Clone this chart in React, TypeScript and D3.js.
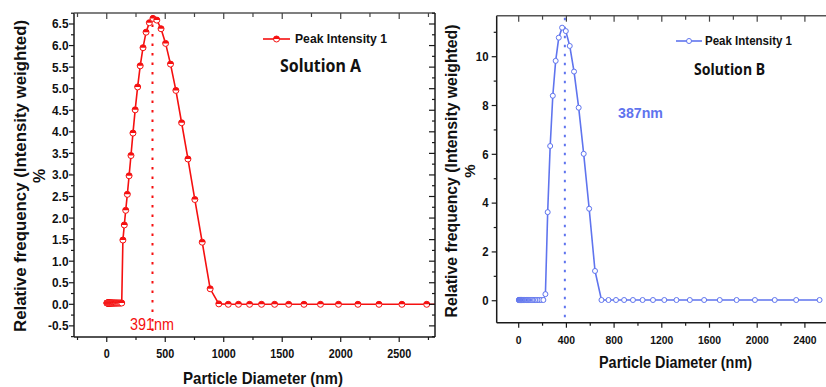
import React from "react";
import * as d3 from "d3";

// Particle diameter bins (nm) shared by both measurements
const diameters = [
  1, 2, 4, 6, 8, 10, 12, 13, 14, 15, 17, 18, 20, 21, 23, 25, 27, 30, 32, 35, 38, 41, 45, 48, 52, 57,
  62, 67, 72, 79, 85, 92, 100, 109, 118, 128,
  138, 150, 162, 176, 191, 207, 224, 243, 264, 286, 310, 336, 364, 395, 428, 464, 503, 545, 591,
  640, 694, 753, 816, 884, 958, 1039, 1126, 1221, 1323, 1435, 1555, 1686, 1827, 1981, 2147, 2327,
  2523, 2735, 2965,
];

// Solution A: relative frequency (%)
const solutionA = [
  0.03, 0.03, 0.03, 0.03, 0.03, 0.03, 0.03, 0.03, 0.03, 0.03, 0.03, 0.03, 0.03, 0.03, 0.03, 0.03,
  0.03, 0.03, 0.03, 0.03, 0.03, 0.03, 0.03, 0.03, 0.03, 0.03, 0.03, 0.03, 0.03, 0.03, 0.03, 0.03,
  0.03, 0.03, 0.03, 0.03,
  1.49, 1.84, 2.18, 2.55, 2.98, 3.45, 3.97, 4.51, 5.04, 5.53, 5.95, 6.31, 6.53, 6.63, 6.59, 6.39,
  6.05, 5.57, 4.96, 4.21, 3.37, 2.43, 1.44, 0.36, 0.01,
  0, 0, 0, 0, 0, 0, 0, 0, 0, 0, 0, 0, 0, 0,
];

// Solution B: relative frequency (%)
const solutionB = [
  0.03, 0.03, 0.03, 0.03, 0.03, 0.03, 0.03, 0.03, 0.03, 0.03, 0.03, 0.03, 0.03, 0.03, 0.03, 0.03,
  0.03, 0.03, 0.03, 0.03, 0.03, 0.03, 0.03, 0.03, 0.03, 0.03, 0.03, 0.03, 0.03, 0.03, 0.03, 0.03,
  0.03, 0.03, 0.03, 0.03,
  0.03, 0.03, 0.03, 0.03, 0.03, 0.03,
  0.27, 3.63, 6.34, 8.4, 9.83, 10.78, 11.19, 11.05, 10.44, 9.39, 7.91, 6.02, 3.77, 1.22, 0.03,
  0.03, 0.03, 0.03, 0.03, 0.03, 0.03, 0.03, 0.03, 0.03, 0.03, 0.03, 0.03, 0.03, 0.03, 0.03, 0.03,
];

const xTickLabelsA = ["0", "500", "1000", "1500", "2000", "2500"];
const yTickLabelsA = ["-0.5", "0.0", "0.5", "1.0", "1.5", "2.0", "2.5", "3.0", "3.5", "4.0", "4.5", "5.0", "5.5", "6.0", "6.5"];
const xTickLabelsB = ["0", "400", "800", "1200", "1600", "2000", "2400"];
const yTickLabelsB = ["0", "2", "4", "6", "8", "10"];

const peakA = 391;
const peakB = 387;
const peakLabelA = "391nm";
const peakLabelB = "387nm";
const legendText = "Peak Intensity 1";
const yLabel = "Relative frequency (Intensity weighted)";
const xLabel = "Particle Diameter (nm)";

const FONT = "'Liberation Sans', Arial, sans-serif";
const TITLE_FONT = "'Noto Sans', 'Open Sans', sans-serif";
const SQ = 0.9;
const RED = "#f51010";
const BLUE = "#5f74ee";
const AXIS = "#1a1a1a";

type PanelProps = {
  id: string;
  values: number[];
  xDomain: [number, number];
  xRange: [number, number];
  yDomain: [number, number];
  yRange: [number, number];
  xLabels: string[];
  yLabels: string[];
  xMinorStep: number;
  xMajorStep: number;
  yMinorStep: number;
  yMajorStep: number;
  color: string;
  halfFill: boolean;
  r: number;
  showRight: boolean;
  tickFont: number;
  yTickFont: number;
  xTickBase: number;
  yTickRight: number;
  peak: number;
  dash: string;
};

function Panel(p: PanelProps) {
  const x = d3.scaleLinear().domain(p.xDomain).range(p.xRange);
  const y = d3.scaleLinear().domain(p.yDomain).range(p.yRange);
  const [x0, x1] = p.xRange;
  const [yb, yt] = p.yRange;
  const line = d3
    .line<number>()
    .x((_, i) => x(diameters[i]))
    .y((d) => y(d));
  const xMinor = d3.range(Math.ceil(p.xDomain[0] / p.xMinorStep) * p.xMinorStep, p.xDomain[1] + 1e-6, p.xMinorStep);
  const yMinor = d3.range(Math.ceil(p.yDomain[0] / p.yMinorStep - 1e-9) * p.yMinorStep, p.yDomain[1] + 1e-6, p.yMinorStep);
  const isMajor = (v: number, s: number) => Math.abs(v / s - Math.round(v / s)) < 1e-6;
  const r = p.r;
  return (
    <g>
      <defs>
        <clipPath id={`clip-${p.id}`}>
          <rect x={x0} y={yt} width={x1 - x0} height={yb - yt} />
        </clipPath>
      </defs>
      <g clipPath={`url(#clip-${p.id})`}>
        <line x1={x(p.peak)} x2={x(p.peak)} y1={yt + 2} y2={yb} stroke={p.color} strokeWidth={2} strokeDasharray={p.dash} />
        <path d={line(p.values) || ""} fill="none" stroke={p.color} strokeWidth={1.6} />
        {p.values.map((v, i) => (
          <g key={i} transform={`translate(${x(diameters[i])},${y(v)})`}>
            <circle r={r} fill="#fff" stroke={p.color} strokeWidth={1} />
            {p.halfFill && <path d={`M${-r},0 A${r},${r} 0 0 1 ${r},0 Z`} fill={p.color} />}
          </g>
        ))}
      </g>
      {/* frame */}
      <line x1={x0} x2={x0} y1={yt} y2={yb} stroke={AXIS} strokeWidth={1.5} />
      <line x1={x0} x2={x1} y1={yb} y2={yb} stroke={AXIS} strokeWidth={1.5} />
      <line x1={x0} x2={x1} y1={yt} y2={yt} stroke="#555" strokeWidth={1.5} />
      {p.showRight && <line x1={x1} x2={x1} y1={yt} y2={yb} stroke={AXIS} strokeWidth={1.5} />}
      {/* x ticks */}
      {xMinor.map((v, i) => {
        const m = isMajor(v, p.xMajorStep);
        const px = x(v);
        return (
          <g key={`xt${i}`}>
            <line x1={px} x2={px} y1={yb} y2={yb + (m ? 5 : 3)} stroke={AXIS} strokeWidth={1.2} />
            <line x1={px} x2={px} y1={yt} y2={yt + (m ? 6 : 4)} stroke="#444" strokeWidth={1.2} />
          </g>
        );
      })}
      {/* y ticks */}
      {yMinor.map((v, i) => {
        const m = isMajor(v, p.yMajorStep);
        const py = y(v);
        return (
          <g key={`yt${i}`}>
            <line x1={x0} x2={x0 - (m ? 5 : 3)} y1={py} y2={py} stroke={AXIS} strokeWidth={1.2} />
            {p.showRight && <line x1={x1} x2={x1 - (m ? 6 : 3)} y1={py} y2={py} stroke={AXIS} strokeWidth={1.2} />}
          </g>
        );
      })}
      {p.xLabels.map((t) => (
        <text
          key={`xl${t}`}
          transform={`translate(${x(+t)},${p.xTickBase}) scale(${SQ},1)`}
          textAnchor="middle"
          fontFamily={FONT}
          fontWeight="bold"
          fontSize={p.tickFont}
          fill="#111"
        >
          {t}
        </text>
      ))}
      {p.yLabels.map((t) => (
        <text
          key={`yl${t}`}
          transform={`translate(${p.yTickRight},${y(+t) + p.yTickFont * 0.36}) scale(0.95,1)`}
          textAnchor="end"
          fontFamily={FONT}
          fontWeight="bold"
          fontSize={p.yTickFont}
          fill="#111"
        >
          {t}
        </text>
      ))}
    </g>
  );
}

function Txt(props: {
  x: number;
  y: number;
  len: number;
  size: number;
  text: string;
  color?: string;
  bold?: boolean;
  family?: string;
}) {
  return (
    <text
      x={props.x}
      y={props.y}
      fontFamily={props.family || FONT}
      fontWeight={props.bold ? "bold" : "normal"}
      fontSize={props.size}
      fill={props.color || "#111"}
      textLength={props.len}
      lengthAdjust="spacingAndGlyphs"
    >
      {props.text}
    </text>
  );
}

function VTxt(props: { cx: number; cy: number; len?: number; size: number; text: string }) {
  return (
    <text
      transform={`translate(${props.cx},${props.cy}) rotate(-90)`}
      textAnchor="middle"
      fontFamily={FONT}
      fontWeight="bold"
      fontSize={props.size}
      fill="#111"
      textLength={props.len}
      lengthAdjust={props.len ? "spacingAndGlyphs" : undefined}
    >
      {props.text}
    </text>
  );
}

export default function App() {
  return (
    <div style={{ position: "absolute", left: 0, top: 0, width: 826, height: 387, background: "#fff" }}>
      <svg width={826} height={387} style={{ display: "block" }}>
        <rect width={826} height={387} fill="#fff" />
        <Panel
          id="a"
          values={solutionA}
          xDomain={[-280, 2806]}
          xRange={[74, 435]}
          yDomain={[-0.758, 6.755]}
          yRange={[337, 13]}
          xLabels={xTickLabelsA}
          yLabels={yTickLabelsA}
          xMinorStep={250}
          xMajorStep={500}
          yMinorStep={0.25}
          yMajorStep={0.5}
          color={RED}
          halfFill={true}
          r={3}
          showRight={true}
          tickFont={12}
          yTickFont={12.5}
          xTickBase={358}
          yTickRight={68.5}
          peak={peakA}
          dash="2.5,7"
        />
        <Panel
          id="b"
          values={solutionB}
          xDomain={[-184.5, 2800]}
          xRange={[496.7, 852.6]}
          yDomain={[-0.9, 11.68]}
          yRange={[322.7, 15.7]}
          xLabels={xTickLabelsB}
          yLabels={yTickLabelsB}
          xMinorStep={200}
          xMajorStep={400}
          yMinorStep={1}
          yMajorStep={2}
          color={BLUE}
          halfFill={false}
          r={2.5}
          showRight={false}
          tickFont={11.5}
          yTickFont={12}
          xTickBase={343.7}
          yTickRight={488.5}
          peak={peakB}
          dash="2.5,6.5"
        />
        {/* Legend A */}
        <line x1={263} x2={290} y1={39} y2={39} stroke={RED} strokeWidth={1.6} />
        <g transform="translate(276.5,39)">
          <circle r={3} fill="#fff" stroke={RED} strokeWidth={1} />
          <path d="M-3,0 A3,3 0 0 1 3,0 Z" fill={RED} />
        </g>
        <Txt x={295} y={42.5} len={92} size={12} text={legendText} bold />
        <Txt x={280} y={71.5} len={81} size={17} text="Solution A" bold family={TITLE_FONT} />
        <Txt x={130} y={330} len={44} size={16} text={peakLabelA} color={RED} />
        {/* Legend B */}
        <line x1={676} x2={702} y1={41} y2={41} stroke={BLUE} strokeWidth={1.6} />
        <circle cx={689} cy={41} r={2.5} fill="#fff" stroke={BLUE} strokeWidth={1} />
        <Txt x={705} y={45} len={87} size={12} text={legendText} bold />
        <Txt x={694} y={75} len={71} size={16} text="Solution B" bold family={TITLE_FONT} />
        <Txt x={618} y={117.7} len={45} size={15.5} text={peakLabelB} color={BLUE} bold />
        {/* Axis titles */}
        <VTxt cx={25.5} cy={176} len={312} size={17} text={yLabel} />
        <VTxt cx={45} cy={176} size={16} text="%" />
        <VTxt cx={457} cy={171} len={293} size={16} text={yLabel} />
        <VTxt cx={475} cy={171} size={15} text="%" />
        <Txt x={183} y={384.3} len={160} size={17} text={xLabel} bold />
        <Txt x={599} y={367.7} len={153} size={16} text={xLabel} bold />
      </svg>
    </div>
  );
}
